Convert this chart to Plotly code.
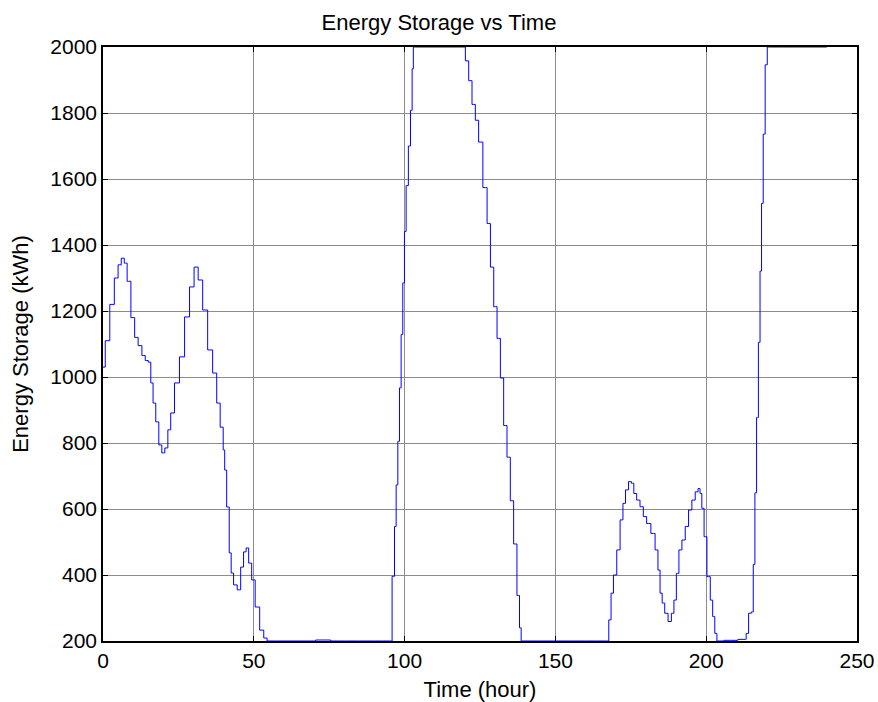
import plotly.graph_objects as go

# Storage level over the simulated period (hours, kWh)
hours = [
    0.0, 1.5, 3.0, 4.5, 5.5, 6.6, 7.5, 8.5, 10.0, 11.0, 12.3, 13.5, 14.5, 15.5, 16.2,
    17.0, 18.0, 19.0, 20.0, 21.0, 22.0, 22.9, 24.5, 26.2, 27.9, 29.5, 30.9, 32.2,
    33.9, 35.5, 37.2, 38.2, 39.5, 40.2, 40.5, 41.5, 42.2, 42.8, 43.8, 45.2, 46.1,
    47.1, 47.8, 48.8, 49.8, 51.1, 52.8, 53.8, 55.0, 60.0, 70.0, 71.0, 80.0, 90.0,
    95.3, 96.4, 96.9, 97.5, 98.0, 98.6, 99.1, 99.7, 100.2, 100.8, 101.7, 102.2,
    102.8, 103.0, 110.0, 119.6, 120.7, 121.8, 122.9, 124.0, 125.1, 126.8, 127.9,
    129.0, 130.1, 131.2, 132.3, 133.4, 134.5, 135.6, 136.7, 137.8, 138.4, 138.9,
    150.0, 160.0, 167.2, 168.2, 168.7, 169.8, 170.9, 172.0, 172.8, 173.7, 174.8,
    175.6, 176.4, 177.5, 178.6, 179.7, 180.8, 182.5, 183.6, 184.4, 185.0, 185.8,
    186.7, 188.0, 188.9, 189.7, 190.5, 191.4, 192.5, 193.6, 194.7, 195.8, 196.9,
    197.7, 198.2, 198.9, 199.7, 200.8, 201.9, 202.4, 203.3, 203.8, 208.0, 213.0,
    213.5, 214.6, 215.3, 215.9, 216.4, 217.0, 217.6, 218.1, 218.6, 219.2, 219.9,
    220.6, 230.0, 240.0,
]
storage = [
    1030, 1110, 1220, 1300, 1340, 1360, 1345, 1290, 1180, 1120, 1095, 1065, 1050, 1045, 982,
    921, 864, 794, 770, 785, 840, 891, 982, 1061, 1182, 1273, 1333, 1294,
    1203, 1082, 1012, 921, 848, 779, 718, 606, 467, 406, 370, 355, 424,
    470, 482, 436, 385, 303, 233, 209, 200, 200, 200, 203, 200, 200,
    200, 396, 547, 673, 805, 967, 1129, 1285, 1441, 1580, 1700, 1808,
    1934, 2000, 2000, 2000, 1958, 1898, 1826, 1778, 1712, 1574, 1465,
    1333, 1213, 1117, 997, 853, 757, 625, 494, 338, 240, 200,
    200, 200, 200, 264, 345, 400, 476, 567, 617, 658, 683,
    678, 647, 627, 607, 577, 556, 526, 476, 415, 345, 315,
    284, 259, 284, 324, 405, 476, 506, 547, 597, 627, 652,
    662, 647, 602, 516, 395, 324, 274, 223, 200, 202, 205,
    223, 284, 288, 432, 649, 877, 1105, 1321, 1526, 1736, 1946,
    2000, 2000, 2000,
]

x_ticks = [0, 50, 100, 150, 200, 250]
y_ticks = [200, 400, 600, 800, 1000, 1200, 1400, 1600, 1800, 2000]

FONT = "Arial, Liberation Sans, sans-serif"

fig = go.Figure(
    go.Scatter(
        x=hours,
        y=storage,
        mode="lines",
        line=dict(color="#0000ff", width=1, shape="hvh"),
        showlegend=False,
    )
)

axis_common = dict(
    automargin=False,
    showline=True,
    linecolor="black",
    linewidth=1.5,
    mirror="ticks",
    ticks="inside",
    ticklen=5,
    tickcolor="black",
    showgrid=True,
    gridcolor="#8c8c8c",
    gridwidth=1,
    zeroline=False,
    tickfont=dict(family=FONT, size=21, color="black"),
    title_font=dict(family=FONT, size=22, color="black"),
)

fig.update_xaxes(
    range=[0, 250],
    tickvals=x_ticks,
    title_text="Time (hour)",
    title_standoff=11,
    **axis_common,
)
fig.update_yaxes(
    range=[200, 2000],
    tickvals=y_ticks,
    title_text="Energy Storage (kWh)",
    title_standoff=16,
    **axis_common,
)

fig.update_layout(
    width=878,
    height=702,
    margin=dict(l=103, r=21, t=47, b=61),
    paper_bgcolor="white",
    plot_bgcolor="white",
    title=dict(
        text="Energy Storage vs Time",
        x=0.5,
        xanchor="center",
        y=0.968,
        yanchor="middle",
        font=dict(family=FONT, size=22, color="black"),
    ),
)

fig.write_html("out.html")
